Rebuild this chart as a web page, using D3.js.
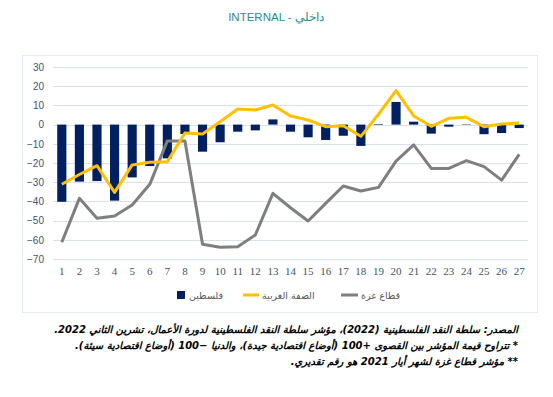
<!DOCTYPE html>
<html><head><meta charset="utf-8">
<script src="https://cdn.jsdelivr.net/npm/d3@7"></script>
<style>body{margin:0;background:#fff;}svg{display:block;}</style>
</head><body>
<svg id="c" width="553" height="397"></svg>
<script>
const categories = d3.range(1, 28).map(String);
const palestine = [-40.2,-29.7,-29.4,-39.6,-27.5,-21.6,-17.6,-4.9,-14.1,-9.2,-3.7,-3,2.7,-3.7,-6.6,-8,-5.8,-11.1,0.3,11.8,1.5,-4.7,-1.1,0.2,-5,-4.4,-1.8];
const westBank = [-31.1,-26,-21.4,-35.3,-21,-19.6,-19.3,-4.4,-4.9,1.5,8.1,7.6,10.2,4.5,2.4,-1.1,-0.6,-6.1,5.4,17.7,4.5,-0.9,3.3,3.8,-1.1,0.3,0.8];
const gaza = [-61.3,-38.4,-48.8,-47.6,-41.9,-31.1,-8.5,-8.5,-62.3,-63.9,-63.6,-57.5,-35.8,-43.3,-50.2,-41,-32,-34.6,-32.7,-19,-10.6,-22.8,-22.8,-18.8,-21.9,-28.9,-15.5];
const yTicks = [30,20,10,0,-10,-20,-30,-40,-50,-60,-70];
const legendLabels = ["فلسطين","الضفة الغربية","قطاع غزة"];
const title = "INTERNAL - داخلي";
const notes = [
 "المصدر: سلطة النقد الفلسطينية (2022)، مؤشر سلطة النقد الفلسطينية لدورة الأعمال، تشرين الثاني 2022.",
 "* تتراوح قيمة المؤشر بين القصوى +100 (أوضاع اقتصادية جيدة)، والدنيا −100 (أوضاع اقتصادية سيئة).",
 "** مؤشر قطاع غزة لشهر أيار 2021 هو رقم تقديري."
];

const svg = d3.select("#c");
const navy = "#002060", gold = "#FFC000", gray = "#7F7F7F";

svg.append("text").attr("x", 276).attr("y", 21).attr("text-anchor","middle")
  .attr("font-family","Liberation Sans, Arial").attr("font-size",11.5).attr("fill","#2E8C8C").text(title);

svg.append("rect").attr("x",22.5).attr("y",55.5).attr("width",515).attr("height",257)
  .attr("fill","none").attr("stroke","#E6ECF4");

const x = d3.scaleBand().domain(categories).range([53,528]).paddingInner(0.48).paddingOuter(0.24);
const y = d3.scaleLinear().domain([-70,30]).range([259,67]);

const g = svg.append("g");
g.selectAll(".grid").data(yTicks).join("line")
  .attr("x1",53).attr("x2",528).attr("y1",d=>Math.round(y(d))+0.5).attr("y2",d=>Math.round(y(d))+0.5)
  .attr("stroke", "#D9E1EE").attr("stroke-width",1);

const yAxis = d3.axisLeft(y).tickValues(yTicks).tickSize(0).tickPadding(0);
const ya = svg.append("g").attr("transform","translate(44,0)").call(yAxis);
ya.select(".domain").remove();
ya.selectAll("text").attr("font-family","Liberation Sans, Arial").attr("font-size",10).attr("fill","#44546A");

const xAxis = d3.axisBottom(x).tickSize(0).tickPadding(0);
const xa = svg.append("g").attr("transform","translate(0,267)").call(xAxis);
xa.select(".domain").remove();
xa.selectAll("text").attr("font-family","Liberation Serif, Times New Roman").attr("font-size",11).attr("fill","#44546A").attr("dy","0.71em");

g.selectAll(".bar").data(palestine).join("rect")
  .attr("x",(d,i)=>x(categories[i])).attr("width",x.bandwidth())
  .attr("y",d=>y(Math.max(0,d))).attr("height",d=>Math.abs(y(d)-y(0)))
  .attr("fill",navy);

const line = d3.line().x((d,i)=>x(categories[i])+x.bandwidth()/2).y(d=>y(d));
g.append("path").datum(gaza).attr("d",line).attr("fill","none").attr("stroke",gray).attr("stroke-width",3).attr("stroke-linejoin","round");
g.append("path").datum(westBank).attr("d",line).attr("fill","none").attr("stroke",gold).attr("stroke-width",3).attr("stroke-linejoin","round");

const lg = svg.append("g").attr("font-family","DejaVu Sans, Noto Sans").attr("font-size",9.5).attr("fill","#595959");
lg.append("rect").attr("x",177).attr("y",291).attr("width",8).attr("height",8).attr("fill",navy);
lg.append("text").attr("x",189).attr("y",298.5).text(legendLabels[0]);
lg.append("line").attr("x1",243).attr("x2",259).attr("y1",295).attr("y2",295).attr("stroke",gold).attr("stroke-width",3);
lg.append("text").attr("x",262).attr("y",298.5).text(legendLabels[1]);
lg.append("line").attr("x1",341).attr("x2",358).attr("y1",295).attr("y2",295).attr("stroke",gray).attr("stroke-width",3);
lg.append("text").attr("x",361).attr("y",298.5).text(legendLabels[2]);

const ny = [333,349,365];
svg.selectAll(".note").data(notes).join("text")
  .attr("x",518).attr("y",(d,i)=>ny[i]).attr("text-anchor","start").attr("direction","rtl")
  .attr("font-family","DejaVu Sans").attr("font-weight","bold").attr("font-style","italic")
  .attr("font-size",10).attr("fill","#000").text(d=>d);
</script>
</body></html>
